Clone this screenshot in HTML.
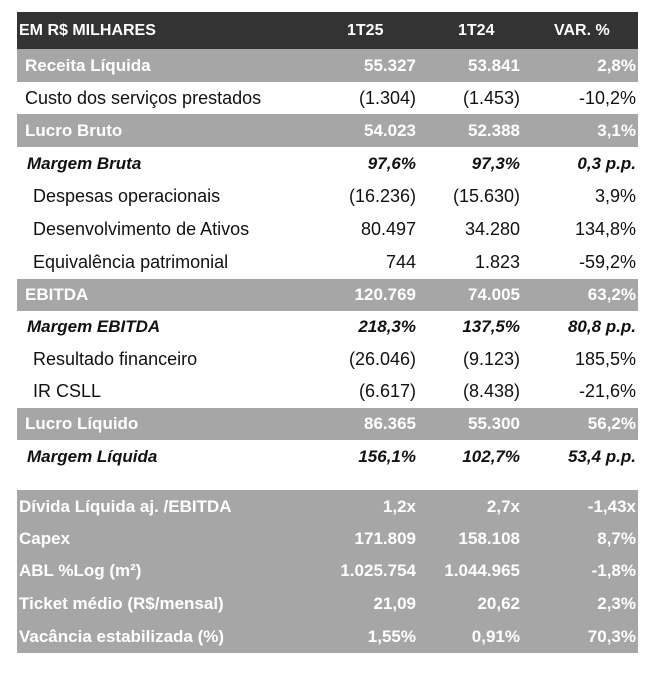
<!DOCTYPE html>
<html><head><meta charset="utf-8"><style>
body{margin:0;width:663px;height:673px;background:#fff;font-family:"Liberation Sans","DejaVu Sans",sans-serif;position:relative;overflow:hidden}
.r{position:absolute;left:17px;width:621px;font-size:18px;color:#111}
.r span{position:absolute;top:0;white-space:nowrap}
.g{background:#a6a6a6;color:#fff;font-weight:bold;font-size:17px}
.h{background:#333;color:#fff;font-weight:bold;font-size:16px}
.i{font-style:italic;font-weight:bold;font-size:17px}
.c1{right:222px}.c2{right:118px}.c3{right:2px}
</style></head><body>
<div id="t"></div>
<script>
const rows=[
["h","EM R$ MILHARES","1T25","1T24","VAR. %",12,37,2],
["g","Receita Líquida","55.327","53.841","2,8%",49,33,8],
["n","Custo dos serviços prestados","(1.304)","(1.453)","-10,2%",82,32,8],
["g","Lucro Bruto","54.023","52.388","3,1%",114,33,8],
["i","Margem Bruta","97,6%","97,3%","0,3 p.p.",147,33,10],
["n","Despesas operacionais","(16.236)","(15.630)","3,9%",180,33,16],
["n","Desenvolvimento de Ativos","80.497","34.280","134,8%",213,33,16],
["n","Equivalência patrimonial","744","1.823","-59,2%",246,33,16],
["g","EBITDA","120.769","74.005","63,2%",279,32,8],
["i","Margem EBITDA","218,3%","137,5%","80,8 p.p.",311,32,10],
["n","Resultado financeiro","(26.046)","(9.123)","185,5%",343,32,16],
["n","IR CSLL","(6.617)","(8.438)","-21,6%",375,33,16],
["g","Lucro Líquido","86.365","55.300","56,2%",408,32,8],
["i","Margem Líquida","156,1%","102,7%","53,4 p.p.",440,33,10],
["g","Dívida Líquida aj. /EBITDA","1,2x","2,7x","-1,43x",490,33,2],
["g","Capex","171.809","158.108","8,7%",523,32,2],
["g","ABL %Log (m²)","1.025.754","1.044.965","-1,8%",555,32,2],
["g","Ticket médio (R$/mensal)","21,09","20,62","2,3%",587,33,2],
["g","Vacância estabilizada (%)","1,55%","0,91%","70,3%",620,33,2]];
const t=document.getElementById('t');
rows.forEach((r,k)=>{
const d=document.createElement('div');


d.className='r '+r[0];
d.style.top=r[5]+'px';d.style.height=r[6]+'px';
const lh=(r[6])+'px';
const mk=(txt,cls,nm)=>{const s=document.createElement('span');s.textContent=txt;if(cls)s.className=cls;s.style.lineHeight=lh;


d.appendChild(s);return s;};
const l=mk(r[1],'','row-label');l.style.left=r[7]+'px';
if(r[0]==='h'){
const a=mk(r[2],'','col-1t25');a.style.left='330px';
const b=mk(r[3],'','col-1t24');b.style.left='441px';
const c=mk(r[4],'','col-var');c.style.left='537px';
}else{
mk(r[2],'c1','value-1t25');mk(r[3],'c2','value-1t24');mk(r[4],'c3','value-var');
}
t.appendChild(d);});
</script>
</body></html>
